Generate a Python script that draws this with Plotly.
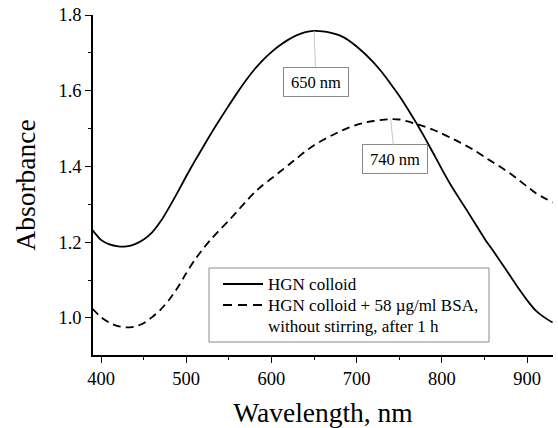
import plotly.graph_objects as go

wavelength = [390, 400, 410, 420, 430, 440, 450, 460, 470, 480, 490, 500, 510, 520, 530, 540,
              550, 560, 570, 580, 590, 600, 610, 620, 630, 640, 650, 660, 670, 680, 690, 700,
              710, 720, 730, 740, 750, 760, 770, 780, 790, 800, 810, 820, 830, 840, 850, 860,
              870, 880, 890, 900, 910, 920, 930]

hgn_colloid = [1.232, 1.206, 1.194, 1.189, 1.189, 1.195, 1.207, 1.226, 1.255, 1.292, 1.332,
               1.374, 1.414, 1.452, 1.490, 1.526, 1.561, 1.595, 1.627, 1.656, 1.681, 1.702,
               1.720, 1.735, 1.747, 1.755, 1.758, 1.757, 1.753, 1.746, 1.734, 1.717, 1.697,
               1.674, 1.648, 1.618, 1.587, 1.552, 1.515, 1.476, 1.435, 1.393, 1.353, 1.317,
               1.282, 1.246, 1.210, 1.178, 1.145, 1.112, 1.078, 1.047, 1.020, 1.002, 0.988]

hgn_bsa = [1.024, 1.002, 0.987, 0.978, 0.975, 0.977, 0.986, 1.002, 1.022, 1.048, 1.080,
           1.118, 1.153, 1.183, 1.210, 1.234, 1.257, 1.282, 1.307, 1.331, 1.351, 1.368,
           1.386, 1.404, 1.422, 1.440, 1.456, 1.469, 1.481, 1.492, 1.502, 1.510, 1.516,
           1.520, 1.523, 1.525, 1.524, 1.519, 1.512, 1.505, 1.497, 1.487, 1.476, 1.465,
           1.453, 1.440, 1.425, 1.411, 1.397, 1.382, 1.365, 1.347, 1.330, 1.317, 1.305]

legend_lines = [["HGN colloid"],
                ["HGN colloid + 58 µg/ml BSA,", "without stirring, after 1 h"]]
peak_labels = [(650, 1.758, "650 nm"), (740, 1.525, "740 nm")]
x_ticks = [400, 500, 600, 700, 800, 900]
y_ticks = [1.0, 1.2, 1.4, 1.6, 1.8]

FONT = "Liberation Serif"
DASH = "8px,5px"

fig = go.Figure()
fig.add_trace(go.Scatter(x=wavelength, y=hgn_colloid, mode="lines", showlegend=False,
                         line=dict(color="black", width=1.8, shape="spline", smoothing=0.6)))
fig.add_trace(go.Scatter(x=wavelength, y=hgn_bsa, mode="lines", showlegend=False,
                         line=dict(color="black", width=1.8, dash=DASH, shape="spline",
                                   smoothing=0.6)))

offsets = [(2, 51), (4, 40)]
for (px, py, txt), (ax, ay) in zip(peak_labels, offsets):
    fig.add_annotation(x=px, y=py, text=txt, showarrow=True, arrowhead=0, arrowwidth=1,
                       arrowcolor="#c8c8c8", ax=ax, ay=ay, bordercolor="#8a8a8a",
                       borderwidth=1, borderpad=4, bgcolor="white", width=56, height=20,
                       font=dict(family=FONT, size=16.5, color="black"))

# legend box (paper coordinates of the plot area)
W, H = 460.0, 340.0
def px2paper(px, py):
    return (px - 93) / W, (355 - py) / H

bx0, by0 = px2paper(209, 342)
bx1, by1 = px2paper(489, 268)
fig.add_shape(type="rect", xref="paper", yref="paper", x0=bx0, y0=by0, x1=bx1, y1=by1,
              line=dict(color="#8a8a8a", width=1), fillcolor="white", layer="above")
row_y = [284, 305, 326]
dashes = ["solid", "9px,6px"]
for i, d in enumerate(dashes):
    lx0, ly = px2paper(223, row_y[i])
    lx1, _ = px2paper(263, row_y[i])
    fig.add_shape(type="line", xref="paper", yref="paper", x0=lx0, x1=lx1, y0=ly, y1=ly,
                  line=dict(color="black", width=1.8, dash=d), layer="above")
rows = [(legend_lines[0][0], row_y[0]), (legend_lines[1][0], row_y[1]),
        (legend_lines[1][1], row_y[2])]
for txt, ry in rows:
    tx, ty = px2paper(266, ry)
    fig.add_annotation(x=tx, y=ty, xref="paper", yref="paper", text=txt, showarrow=False,
                       xanchor="left", yanchor="middle",
                       font=dict(family=FONT, size=17, color="black"))

axis_common = dict(showline=True, linecolor="black", linewidth=1.5, ticks="outside",
                   ticklen=6, tickwidth=1.2, tickcolor="black", showgrid=False, zeroline=False,
                   mirror=False, automargin=False,
                   tickfont=dict(family=FONT, size=18.5, color="black"))

fig.update_xaxes(range=[390.6, 930.5], tickvals=x_ticks,
                 title=dict(text="Wavelength, nm", font=dict(family=FONT, size=27.5, color="black"),
                            standoff=22),
                 minor=dict(dtick=50, tick0=350, ticks="outside", ticklen=3, tickcolor="black",
                            tickwidth=1.2),
                 **axis_common)
fig.update_yaxes(range=[0.902, 1.8], tickvals=y_ticks, tickformat=".1f",
                 title=dict(text="Absorbance", font=dict(family=FONT, size=27.5, color="black"),
                            standoff=15),
                 minor=dict(dtick=0.1, tick0=0.9, ticks="outside", ticklen=3, tickcolor="black",
                            tickwidth=1.2),
                 **axis_common)

fig.update_layout(
    width=558, height=428,
    margin=dict(l=93, r=5, t=15, b=73),
    paper_bgcolor="white", plot_bgcolor="white",
    font=dict(family=FONT, color="black"),
    showlegend=False,
)

fig.write_html("out.html", config={"displayModeBar": False},
               post_script="document.body.style.margin='0';document.body.style.padding='0';")
